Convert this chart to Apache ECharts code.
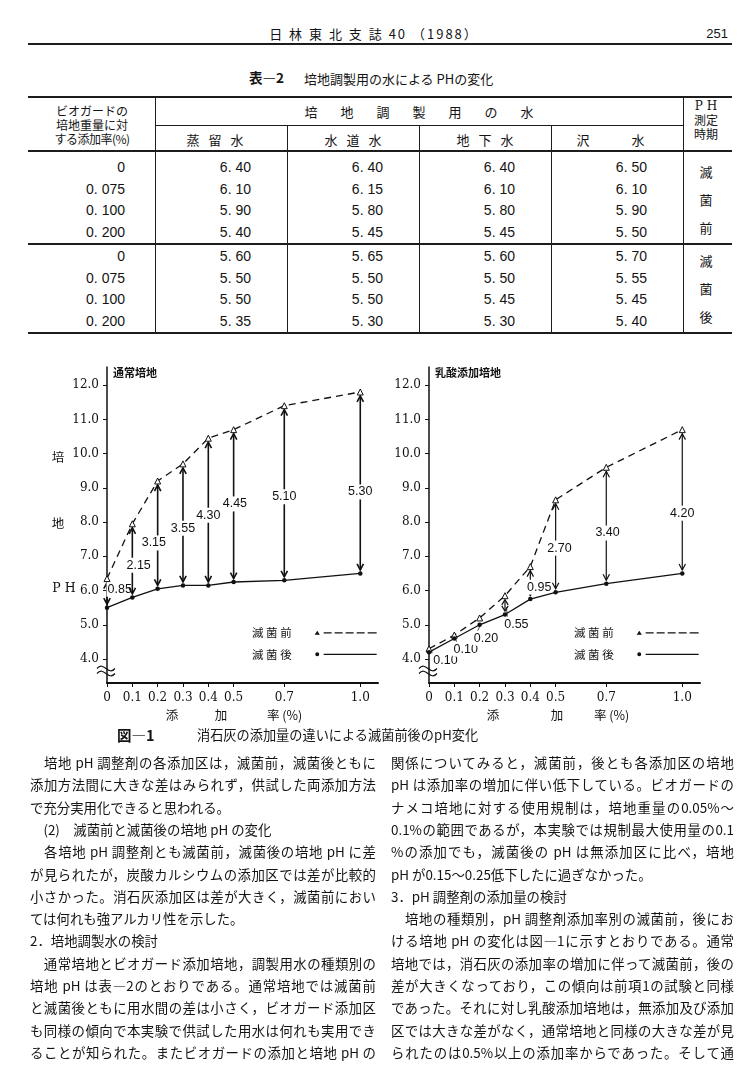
<!DOCTYPE html>
<html lang="ja">
<head>
<meta charset="utf-8">
<title>日林東北支誌 40 (1988) 251</title>
<script src="https://cdn.jsdelivr.net/npm/echarts@6.0.0/dist/echarts.min.js"></script>
<style>
html,body{margin:0;padding:0;background:#fff;}
body{width:750px;height:1080px;position:relative;overflow:hidden;color:#141414;font-family:"Noto Sans CJK JP","Noto Sans",sans-serif;}
.t{position:absolute;white-space:nowrap;line-height:1;}
.ln{position:absolute;background:#1c1c1c;}
.bl{position:absolute;height:20px;line-height:20px;font-size:13.4px;white-space:nowrap;}
.full{text-align:justify;text-align-last:justify;white-space:normal;overflow:hidden;}
#chart{position:absolute;left:0;top:360px;width:750px;height:372px;}
</style>
</head>
<body>
<div id="chart"></div>
<script>
// ---------------- chart data (図-1) ----------------
const xValues = [0, 0.1, 0.2, 0.3, 0.4, 0.5, 0.7, 1.0];
const yTickValues = [4, 5, 6, 7, 8, 9, 10, 11, 12];
const normalBefore = [6.35, 7.95, 9.20, 9.70, 10.45, 10.70, 11.40, 11.80];
const normalAfter  = [5.50, 5.80, 6.05, 6.15, 6.15, 6.25, 6.30, 6.50];
const normalDiff   = ['0.85', '2.15', '3.15', '3.55', '4.30', '4.45', '5.10', '5.30'];
const lacticBefore = [4.30, 4.70, 5.20, 5.85, 6.70, 8.65, 9.60, 10.70];
const lacticAfter  = [4.20, 4.60, 5.00, 5.30, 5.75, 5.95, 6.20, 6.50];
const lacticDiff   = ['0.10', '0.10', '0.20', '0.55', '0.95', '2.70', '3.40', '4.20'];
// annotation anchors for the difference labels (data coordinates)
const normalLabelX = [0.05, 0.125, 0.185, 0.30, 0.40, 0.505, 0.70, 1.00];
const normalLabelY = [6.04, 6.74, 7.39, 7.82, 8.20, 8.53, 8.74, 8.88];
const lacticLabelX = [0.065, 0.145, 0.225, 0.345, 0.435, 0.515, 0.705, 1.00];
const lacticLabelY = [3.97, 4.29, 4.61, 5.02, 6.10, 7.24, 7.68, 8.26];
const lacticLeader = [1, 1, 1, 1, 0, 0, 0, 0];

// ---------------- table data (表-2) ----------------
const rateLabels = ['0', '0. 075', '0. 100', '0. 200'];
const waterNames = ['蒸留水', '水道水', '地下水', '沢水'];
const phBeforeSterilization = [
  [6.40, 6.40, 6.40, 6.50],
  [6.10, 6.15, 6.10, 6.10],
  [5.90, 5.80, 5.80, 5.90],
  [5.40, 5.45, 5.45, 5.50]
];
const phAfterSterilization = [
  [5.60, 5.65, 5.60, 5.70],
  [5.50, 5.50, 5.50, 5.55],
  [5.50, 5.50, 5.45, 5.45],
  [5.35, 5.30, 5.30, 5.40]
];

// ---------------- body text ----------------
const leftLines = [
  '　培地 pH 調整剤の各添加区は，滅菌前，滅菌後ともに',
  '添加方法間に大きな差はみられず，供試した両添加方法',
  'で充分実用化できると思われる。',
  '　(2)　滅菌前と滅菌後の培地 pH の変化',
  '　各培地 pH 調整剤とも滅菌前，滅菌後の培地 pH に差',
  'が見られたが，炭酸カルシウムの添加区では差が比較的',
  '小さかった。消石灰添加区は差が大きく，滅菌前におい',
  'ては何れも強アルカリ性を示した。',
  '2．培地調製水の検討',
  '　通常培地とビオガード添加培地，調製用水の種類別の',
  '培地 pH は表—2のとおりである。通常培地では滅菌前',
  'と滅菌後ともに用水間の差は小さく，ビオガード添加区',
  'も同様の傾向で本実験で供試した用水は何れも実用でき',
  'ることが知られた。またビオガードの添加と培地 pH の'
];
const leftFull = [1,1,0,0,1,1,1,0,0,1,1,1,1,1];
const rightLines = [
  '関係についてみると，滅菌前，後とも各添加区の培地',
  'pH は添加率の増加に伴い低下している。ビオガードの',
  'ナメコ培地に対する使用規制は，培地重量の0.05%～',
  '0.1%の範囲であるが，本実験では規制最大使用量の0.1',
  '%の添加でも，滅菌後の pH は無添加区に比べ，培地',
  'pH が0.15～0.25低下したに過ぎなかった。',
  '3．pH 調整剤の添加量の検討',
  '　培地の種類別，pH 調整剤添加率別の滅菌前，後にお',
  'ける培地 pH の変化は図—1に示すとおりである。通常',
  '培地では，消石灰の添加率の増加に伴って滅菌前，後の',
  '差が大きくなっており，この傾向は前項1の試験と同様',
  'であった。それに対し乳酸添加培地は，無添加及び添加',
  '区では大きな差がなく，通常培地と同様の大きな差が見',
  'られたのは0.5%以上の添加率からであった。そして通'
];
const rightFull = [1,1,1,1,1,0,0,1,1,1,1,1,1,1];

// ---------------- page helpers ----------------
function txt(s, x, y, size, opt) {
  opt = opt || {};
  const d = document.createElement('div');
  d.className = 't';
  d.textContent = s;
  d.style.fontSize = size + 'px';
  d.style.top = (y - size / 2) + 'px';
  if (opt.align === 'right') d.style.right = (750 - x) + 'px';
  else if (opt.align === 'center') { d.style.left = x + 'px'; d.style.transform = 'translateX(-50%)'; }
  else d.style.left = x + 'px';
  if (opt.font) d.style.fontFamily = opt.font;
  if (opt.bold) d.style.fontWeight = 'bold';
  if (opt.ls !== undefined) d.style.letterSpacing = opt.ls + 'px';
  document.body.appendChild(d);
  return d;
}
function hl(x1, x2, y, w) {
  const d = document.createElement('div');
  d.className = 'ln';
  d.style.left = x1 + 'px'; d.style.width = (x2 - x1) + 'px';
  d.style.top = (y - w / 2) + 'px'; d.style.height = w + 'px';
  document.body.appendChild(d);
}
function vl(x, y1, y2, w) {
  const d = document.createElement('div');
  d.className = 'ln';
  d.style.left = (x - w / 2) + 'px'; d.style.width = w + 'px';
  d.style.top = y1 + 'px'; d.style.height = (y2 - y1) + 'px';
  document.body.appendChild(d);
}
function spaced(chars, centers, y, size, opt) {
  chars.split('').forEach((c, i) => txt(c, centers[i], y, size, Object.assign({align: 'center'}, opt || {})));
}

// ---------------- running head ----------------
txt('日 林 東 北 支 誌 40 （1988）', 374, 33, 13, {align: 'center', ls: 2});
txt('251', 728, 33, 13, {align: 'right', font: '"Liberation Sans Narrow","Liberation Sans",sans-serif'});
hl(28, 732, 44, 2);

// ---------------- table ----------------
txt('表—2', 249, 78, 13.5, {bold: true});
txt('培地調製用の水による PHの変化', 304, 78, 13);
const X0 = 28, X1 = 732;
const colB = [155, 287, 419, 551, 683];
const yTop = 97, yHdr = 125, ySub = 151, ySep = 243.5, yBot = 333;
hl(X0, X1, yTop, 2);
hl(colB[0], colB[4], yHdr, 1);
hl(X0, X1, ySub, 1.5);
hl(X0, X1, ySep, 2);
hl(X0, X1, yBot, 1.5);
vl(colB[0], yTop, yBot, 1);
vl(colB[1], yHdr, yBot, 1);
vl(colB[2], yHdr, yBot, 1);
vl(colB[3], yHdr, yBot, 1);
vl(colB[4], yTop, yBot, 1);
txt('ビオガードの', 92, 111, 12, {align: 'center'});
txt('培地重量に対', 92, 125, 12, {align: 'center'});
txt('する添加率(%)', 92, 139, 12, {align: 'center', ls: -0.5});
spaced('培地調製用の水', [311, 347, 383, 419, 455, 491, 527], 111, 13);
spaced(waterNames[0], [193, 215, 237], 139, 13);
spaced(waterNames[1], [331, 353, 375], 139, 13);
spaced(waterNames[2], [463, 485, 507], 139, 13);
spaced(waterNames[3], [583, 638], 139, 13);
txt('P H', 706, 106, 12, {align: 'center', font: '"DejaVu Serif",serif'});
txt('測定', 706, 120, 12, {align: 'center'});
txt('時期', 706, 134, 12, {align: 'center'});
const rowsY1 = [167, 188.5, 210, 231.5];
const rowsY2 = [256, 277.5, 299, 320.5];
const numFont = '"Liberation Sans Narrow","Liberation Sans",sans-serif';
function fmt(v) { return v.toFixed(2).replace('.', '. '); }
[[rowsY1, phBeforeSterilization], [rowsY2, phAfterSterilization]].forEach(([ys, vals]) => {
  ys.forEach((y, r) => {
    txt(rateLabels[r], 125, y, 14, {align: 'right', font: numFont});
    vals[r].forEach((v, c) => txt(fmt(v), colB[c + 1] - 36, y, 14, {align: 'right', font: numFont}));
  });
});
txt('滅', 706, 171, 13, {align: 'center'});
txt('菌', 706, 199, 13, {align: 'center'});
txt('前', 706, 227, 13, {align: 'center'});
txt('滅', 706, 260, 13, {align: 'center'});
txt('菌', 706, 288, 13, {align: 'center'});
txt('後', 706, 316, 13, {align: 'center'});

// ---------------- caption ----------------
txt('図—1', 117, 735, 14.5, {bold: true});
txt('消石灰の添加量の違いによる滅菌前後のpH変化', 197, 735, 13.2);

// ---------------- body text ----------------
function bodyCol(lines, full, x, w) {
  lines.forEach((s, i) => {
    const d = document.createElement('div');
    d.className = 'bl' + (full[i] ? ' full' : '');
    d.textContent = s;
    d.style.left = x + 'px';
    d.style.width = w + 'px';
    d.style.top = (762 + i * 22.3 - 10) + 'px';
    document.body.appendChild(d);
  });
}
bodyCol(leftLines, leftFull, 30, 346);
bodyCol(rightLines, rightFull, 391, 343);

// ---------------- ECharts figure ----------------
const chart = echarts.init(document.getElementById('chart'), null, {renderer: 'canvas'});
const GRID_TOP = 7, GRID_H = 316, GRID_W = 271;
const gridLefts = [107, 429];
const numLabelFont = 'DejaVu Serif';

function xAxisOpt(idx) {
  return {
    type: 'value', gridIndex: idx, min: 0, max: 1.07,
    axisLine: {show: true, lineStyle: {color: '#111', width: 2}},
    axisTick: {show: true, customValues: xValues, length: 4, inside: false, lineStyle: {color: '#111', width: 1}},
    axisLabel: {customValues: xValues, margin: 9, color: '#111', fontSize: 12, fontFamily: numLabelFont,
      formatter: v => (v === 0 ? '0' : v.toFixed(1))},
    splitLine: {show: false}
  };
}
function yAxisOpt(idx) {
  return {
    type: 'value', gridIndex: idx, min: 3.3, max: 12.53,
    axisLine: {show: true, lineStyle: {color: '#111', width: 1.5}},
    axisTick: {show: true, customValues: yTickValues, length: 4, lineStyle: {color: '#111', width: 1}},
    axisLabel: {customValues: yTickValues, margin: 8, color: '#111', fontSize: 12, fontFamily: numLabelFont,
      formatter: v => v.toFixed(1)},
    splitLine: {show: false}
  };
}
function pairs(ys) { return xValues.map((x, i) => [x, ys[i]]); }
function beforeSeries(idx, ys) {
  return {
    name: '滅 菌 前', type: 'line', xAxisIndex: idx, yAxisIndex: idx, data: pairs(ys), z: 3,
    symbol: 'triangle', symbolSize: [6, 6], showAllSymbol: true,
    itemStyle: {color: '#fff', borderColor: '#111', borderWidth: 1},
    lineStyle: {color: '#111', width: 1.3, type: [7, 5]},
    emphasis: {disabled: true}, silent: true
  };
}
function afterSeries(idx, ys) {
  return {
    name: '滅 菌 後', type: 'line', xAxisIndex: idx, yAxisIndex: idx, data: pairs(ys), z: 3,
    symbol: 'circle', symbolSize: 4.5, showAllSymbol: true,
    itemStyle: {color: '#111'},
    lineStyle: {color: '#111', width: 1.3, type: 'solid'},
    emphasis: {disabled: true}, silent: true
  };
}
function arrowSeries(idx, before, after, diffs, lx, ly, leader, lw) {
  const data = xValues.map((x, i) => [x, before[i], after[i], lx[i], ly[i], leader ? leader[i] : 0]);
  return {
    type: 'custom', xAxisIndex: idx, yAxisIndex: idx, z: 1, silent: true,
    encode: {x: 0, y: [1, 2]},
    data: data,
    renderItem: function (params, api) {
      const i = params.dataIndex;
      const x = api.value(0), hi = api.value(1), lo = api.value(2);
      const a = api.coord([x, hi]), b = api.coord([x, lo]);
      const top = a[1] + 4, bot = b[1] - 3.5;
      const L = bot - top;
      const st = {stroke: '#111', lineWidth: lw, fill: 'none'};
      const children = [];
      if (L > 3) {
        const h = Math.min(6, L / 2.2), w = Math.min(3.2, h * 0.6 + 0.6);
        children.push({type: 'line', shape: {x1: a[0], y1: top, x2: a[0], y2: bot}, style: st});
        children.push({type: 'polyline', shape: {points: [[a[0] - w, top + h], [a[0], top], [a[0] + w, top + h]]}, style: st});
        children.push({type: 'polyline', shape: {points: [[a[0] - w, bot - h], [a[0], bot], [a[0] + w, bot - h]]}, style: st});
      }
      const t = api.coord([api.value(3), api.value(4)]);
      if (api.value(5)) {
        children.push({type: 'line', shape: {x1: a[0] + 1.5, y1: (a[1] + b[1]) / 2 + 2, x2: t[0] - 9, y2: t[1] - 6},
          style: {stroke: '#111', lineWidth: 0.8}});
      }
      children.push({type: 'text', style: {text: diffs[i], x: t[0], y: t[1], align: 'center', verticalAlign: 'middle',
        fontSize: 12.5, fontFamily: 'Liberation Sans', fill: '#111', backgroundColor: '#fff', padding: [1, 1]}});
      return {type: 'group', children: children};
    }
  };
}

const beforeIcon = 'path://M0,7.5 L2.6,3.5 L5.2,7.5 Z M9,5 h8 v1.2 h-8 Z M20,5 h8 v1.2 h-8 Z M31,5 h8 v1.2 h-8 Z M42,5 h8 v1.2 h-8 Z M53,5 h9 v1.2 h-9 Z';
const afterIcon = 'path://M0.6,5.5 a2,2 0 1,0 4,0 a2,2 0 1,0 -4,0 Z M9,5 h53 v1.2 h-53 Z M0,3.5 h0.01 v4 h-0.01 Z';
function legendOpt(gx) {
  return {
    left: gx + 145, top: 267, orient: 'vertical', align: 'right', padding: 0,
    itemWidth: 62, itemHeight: 4, itemGap: 10, selectedMode: false,
    data: [
      {name: '滅 菌 前', icon: beforeIcon, itemStyle: {color: '#111', borderWidth: 0}},
      {name: '滅 菌 後', icon: afterIcon, itemStyle: {color: '#111', borderWidth: 0}}
    ],
    textStyle: {fontSize: 11.5, fontFamily: 'Noto Sans CJK JP', color: '#111', padding: [0, 18, 0, 0]}
  };
}
function breakMark(gx) {
  const y = GRID_TOP + GRID_H - 12;
  const wave = (yy) => ({
    type: 'bezierCurve',
    shape: {x1: gx - 10, y1: yy, cpx1: gx - 3, cpy1: yy - 8, cpx2: gx + 1, cpy2: yy + 8, x2: gx + 8, y2: yy},
    style: {stroke: '#111', lineWidth: 1.2, fill: null}
  });
  return [wave(y - 2.5), wave(y + 2.5)];
}
const nameFont = {fontSize: 12.5, fontFamily: 'Noto Sans CJK JP', fill: '#111'};
function gText(s, x, y, extra) {
  return {type: 'text', x: x, y: y, style: Object.assign({text: s, align: 'center', verticalAlign: 'middle'}, nameFont, extra || {})};
}

chart.setOption({
  animation: false,
  backgroundColor: '#fff',
  title: [
    {text: '通常培地', left: 113, top: 7, padding: 0, textStyle: {fontSize: 11, fontWeight: 'bold', fontFamily: 'Noto Sans CJK JP', color: '#111'}},
    {text: '乳酸添加培地', left: 435, top: 7, padding: 0, textStyle: {fontSize: 11, fontWeight: 'bold', fontFamily: 'Noto Sans CJK JP', color: '#111'}}
  ],
  legend: [legendOpt(gridLefts[0]), legendOpt(gridLefts[1])],
  grid: gridLefts.map(l => ({left: l, top: GRID_TOP, width: GRID_W, height: GRID_H, containLabel: false})),
  xAxis: [xAxisOpt(0), xAxisOpt(1)],
  yAxis: [yAxisOpt(0), yAxisOpt(1)],
  series: [
    arrowSeries(0, normalBefore, normalAfter, normalDiff, normalLabelX, normalLabelY, null, 1.6),
    beforeSeries(0, normalBefore),
    afterSeries(0, normalAfter),
    arrowSeries(1, lacticBefore, lacticAfter, lacticDiff, lacticLabelX, lacticLabelY, lacticLeader, 1.2),
    beforeSeries(1, lacticBefore),
    afterSeries(1, lacticAfter)
  ],
  graphic: [].concat(
    breakMark(gridLefts[0]), breakMark(gridLefts[1]),
    [
      gText('培', 58, 97), gText('地', 58, 163),
      gText('P H', 64, 229, {fontFamily: 'DejaVu Serif', fontSize: 12.5}),
      gText('添', 172, 355), gText('加', 221, 355), gText('率 (%)', 267, 355, {align: 'left'}),
      gText('添', 493, 355), gText('加', 557, 355), gText('率 (%)', 594, 355, {align: 'left'})
    ]
  )
});
</script>
</body>
</html>
